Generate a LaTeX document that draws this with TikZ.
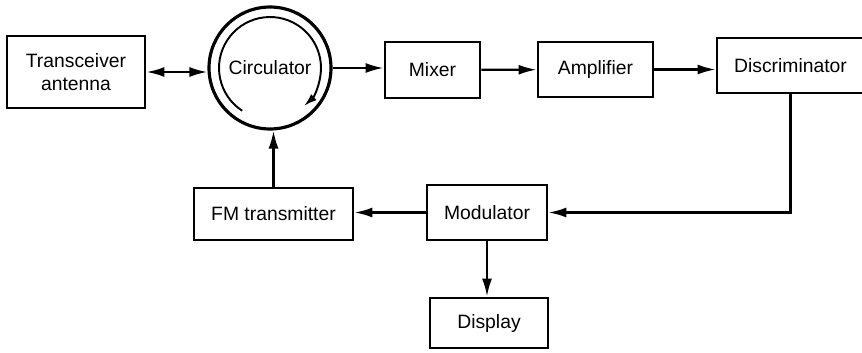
\documentclass[tikz,border=0pt]{standalone}
\usepackage{fontspec}
\setmainfont{Liberation Sans}
\usetikzlibrary{arrows.meta}

\begin{document}
\begin{tikzpicture}[x=0.02cm, y=-0.02cm, >={Latex[length=3.6mm,width=2mm]},
  main/.style = {draw, rectangle, line width=1.6pt, font=\fontsize{11}{13}\selectfont, align=center, inner sep=0pt},
  sig/.style = {line width=1.3pt}]
\useasboundingbox (0,0) rectangle (862,352);
\node[main, minimum width=2.76cm, minimum height=1.44cm] (1) at (76,72) {Transceiver\\antenna};
\node[main, circle, line width=1.8pt, minimum size=2.44cm] (2) at (270,68) {Circulator};
\node[main, minimum width=1.9cm, minimum height=1.12cm] (3) at (432.5,70) {Mixer};
\node[main, minimum width=2.3cm, minimum height=1.1cm] (4) at (595.5,69.5) {Amplifier};
\node[main, minimum width=2.94cm, minimum height=1.1cm] (5) at (790.5,65.5) {Discriminator};
\node[main, minimum width=2.4cm, minimum height=1.1cm] (6) at (487,212.5) {Modulator};
\node[main, minimum width=3.18cm, minimum height=1.04cm] (7) at (273.5,214) {FM transmitter};
\node[main, minimum width=2.36cm, minimum height=1.0cm] (8) at (489,323) {Display};
\draw[sig, <->] (1.east) -- (1.east -| 2.west);
\draw[sig, ->] (2.east) -- (2.east -| 3.west);
\draw[sig, ->] (3) -- (4);
\draw[sig, ->] (4.east) -- (4.east -| 5.west);
\draw[sig, ->] (5.south) |- (6.east);
\draw[sig, ->] (6.west) -- (6.west -| 7.east);
\draw[sig, ->] (6.south) -- (6.south |- 8.north);
\draw[sig, ->] (7.north) -- (7.north |- 2.south);
\draw[line width=1.1pt, -{Latex[length=2.6mm,width=1.6mm]}] ([shift={(237:1.02cm)}]2.center) arc[start angle=237, end angle=-48, radius=1.02cm];
\end{tikzpicture}
\end{document}
